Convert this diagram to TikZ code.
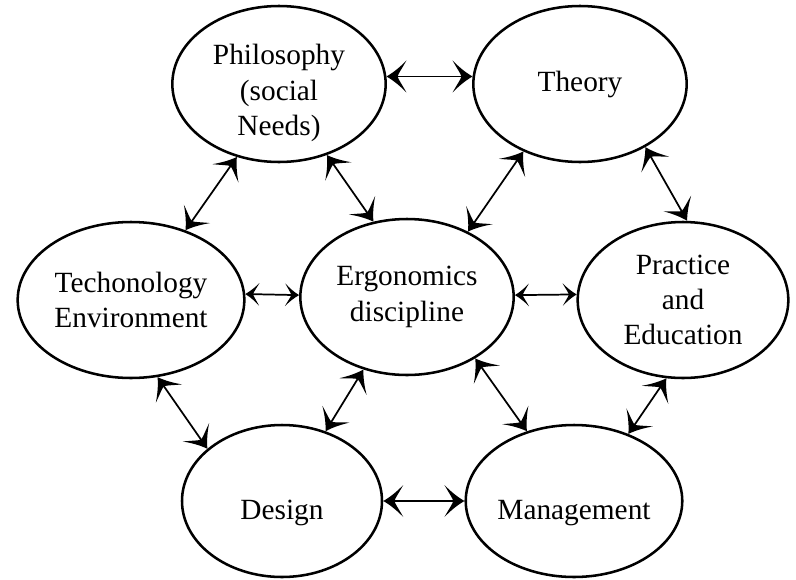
\documentclass[tikz,border=0pt]{standalone}
\usepackage{fontspec}
\setmainfont{Liberation Serif}
\usetikzlibrary{shapes.geometric,arrows.meta}

% swept-back arrow head with curved barbs
\pgfdeclarearrow{
  name=Barb,
  parameters={\the\pgfarrowlength,\the\pgfarrowwidth},
  setup code={
    \pgfarrowssettipend{0pt}
    \pgfarrowssetlineend{-0.5\pgfarrowlength}
    \pgfarrowssetbackend{-\pgfarrowlength}
    \pgfarrowssavethe\pgfarrowlength
    \pgfarrowssavethe\pgfarrowwidth
  },
  drawing code={
    \pgfpathmoveto{\pgfpointorigin}
    \pgfpathcurveto{\pgfpoint{-0.4\pgfarrowlength}{0.14\pgfarrowwidth}}
      {\pgfpoint{-0.75\pgfarrowlength}{0.34\pgfarrowwidth}}
      {\pgfpoint{-\pgfarrowlength}{0.5\pgfarrowwidth}}
    \pgfpathcurveto{\pgfpoint{-0.75\pgfarrowlength}{0.22\pgfarrowwidth}}
      {\pgfpoint{-0.6\pgfarrowlength}{0.1\pgfarrowwidth}}
      {\pgfpoint{-0.56\pgfarrowlength}{0pt}}
    \pgfpathcurveto{\pgfpoint{-0.6\pgfarrowlength}{-0.1\pgfarrowwidth}}
      {\pgfpoint{-0.75\pgfarrowlength}{-0.22\pgfarrowwidth}}
      {\pgfpoint{-\pgfarrowlength}{-0.5\pgfarrowwidth}}
    \pgfpathcurveto{\pgfpoint{-0.75\pgfarrowlength}{-0.34\pgfarrowwidth}}
      {\pgfpoint{-0.4\pgfarrowlength}{-0.14\pgfarrowwidth}}
      {\pgfpointorigin}
    \pgfpathclose
    \pgfusepathqfill
  },
  defaults={length=15pt, width=24pt}
}

\tikzset{
  topic/.style={ellipse, draw, line width=1.9pt, inner sep=0pt, align=center,
    minimum width=160pt, minimum height=117pt, font=\fontsize{22}{26.5}\selectfont},
  link/.style={line width=1.3pt, <->, >={Barb[length=15pt,width=24pt]}},
  smalllink/.style={link, >={Barb[length=10.5pt,width=17pt]}},
}

\begin{document}
\begin{tikzpicture}[x=0.75pt,y=-0.75pt]
  \useasboundingbox (0,0) rectangle (796,579);

  \node[topic, text height=77pt, text depth=0pt] (phil) at (279,84) {Philosophy\\(social\\Needs)};
  \node[topic] (theory) at (580,84) {Theory};
  \node[topic, minimum width=170pt] (tech) at (131,300) {Techonology\\Environment};
  \node[topic] (ergo) at (407,297) {Ergonomics\\discipline};
  \node[topic, minimum width=158pt] (prac) at (683,300) {Practice\\and\\Education};
  \node[topic, minimum width=150pt, minimum height=114pt,
        text height=27pt, text depth=0pt] (design) at (282,501) {Design};
  \node[topic, minimum width=159pt, minimum height=114pt,
        text height=27pt, text depth=0pt] (mgmt) at (574,501) {Management};

  \draw[link] (phil.4) -- (theory.176);
  \draw[link] (phil.240) -- (tech.52);
  \draw[link] (phil.-56) -- (ergo.114);
  \draw[link] (theory.230) -- (ergo.47);
  \draw[link] (theory.-44) -- (prac.87);
  \draw[smalllink] (tech.3) -- (ergo.179);
  \draw[smalllink] (ergo.1) -- (prac.177);
  \draw[link] (tech.-71) -- (design.145);
  \draw[link] (ergo.-121) -- (design.58);
  \draw[link] (ergo.-42) -- (mgmt.124);
  \draw[link] (prac.-102) -- (mgmt.51);
  \draw[link] (design.0) -- (mgmt.180);
\end{tikzpicture}
\end{document}
